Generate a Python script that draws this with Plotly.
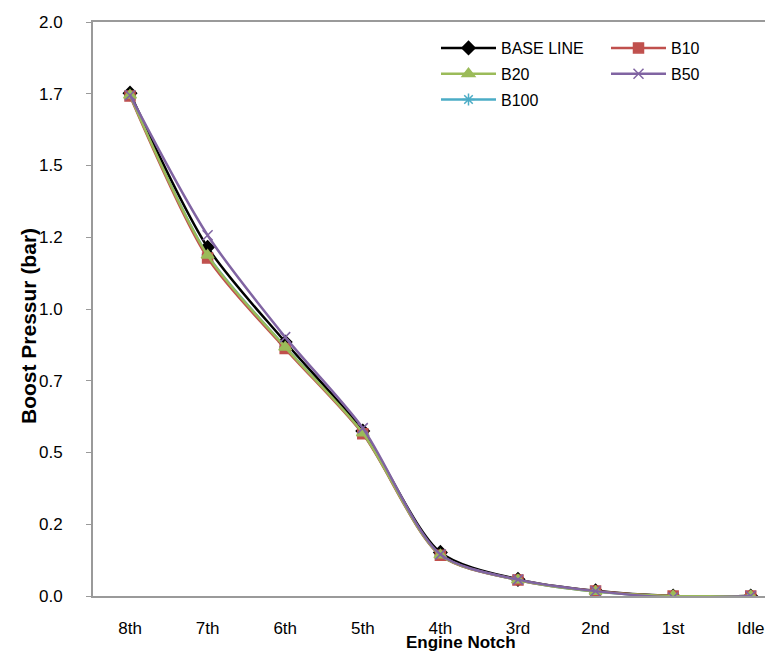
import plotly.graph_objects as go

notches = ["8th", "7th", "6th", "5th", "4th", "3rd", "2nd", "1st", "Idle"]
base_line = [1.752, 1.215, 0.885, 0.575, 0.152, 0.058, 0.018, 0.000, 0.000]
b10 = [1.742, 1.178, 0.862, 0.565, 0.142, 0.056, 0.017, 0.000, 0.000]
b20 = [1.745, 1.187, 0.867, 0.568, 0.143, 0.056, 0.016, 0.000, 0.000]
b50 = [1.745, 1.257, 0.902, 0.585, 0.145, 0.057, 0.017, -0.005, 0.000]
b100 = [1.745, 1.188, 0.868, 0.568, 0.143, 0.056, 0.016, 0.000, 0.000]

y_tickvals = [0, 0.25, 0.5, 0.75, 1.0, 1.25, 1.5, 1.75, 2.0]
y_ticktext = ["0.0", "0.2", "0.5", "0.7", "1.0", "1.2", "1.5", "1.7", "2.0"]

# drawing order: B100 lies underneath the others, as in the reference
series = [
    ("B100", b100, "#4BACC6", "asterisk-open", 10, "legend", 3),
    ("BASE LINE", base_line, "#000000", "diamond", 10, "legend", 1),
    ("B10", b10, "#C0504D", "square", 10, "legend2", 1),
    ("B20", b20, "#9BBB59", "triangle-up", 11, "legend", 2),
    ("B50", b50, "#8064A2", "x-thin-open", 10, "legend2", 2),
]

fig = go.Figure()
for name, vals, color, sym, size, lg, rank in series:
    fig.add_trace(go.Scatter(
        x=list(range(len(notches))), y=vals, name=name, mode="lines+markers",
        legend=lg, legendgroup=name, legendrank=rank,
        line=dict(color=color, width=2.5, shape="spline", smoothing=0.8),
        marker=dict(symbol=sym, size=size, color=color,
                    line=dict(color=color, width=1.5)),
    ))

W, H = 773, 651
L, R, T, B = 85, 0, 14, 63
pw, ph = W - L - R, H - T - B

legend_common = dict(
    orientation="v", xanchor="left", yanchor="top",
    font=dict(size=16, family="Liberation Sans, Arial, sans-serif"),
    bgcolor="rgba(0,0,0,0)", itemwidth=55, borderwidth=0,
    tracegroupgap=2,
)

fig.update_layout(
    width=W, height=H,
    margin=dict(l=L, r=R, t=T, b=B, pad=0),
    paper_bgcolor="white", plot_bgcolor="white",
    font=dict(family="Liberation Sans, Arial, sans-serif", color="#000000"),
    showlegend=True,
    legend=dict(x=(428 - L) / pw, y=(588 - 23) / ph, **legend_common),
    legend2=dict(x=(598 - L) / pw, y=(588 - 23) / ph, **legend_common),
    xaxis=dict(
        tickmode="array", tickvals=list(range(len(notches))), ticktext=notches,
        range=[-0.477, 8.39], showgrid=False, zeroline=False,
        showline=True, linecolor="#9a9a9a", linewidth=2, mirror=True,
        ticks="", tickfont=dict(size=17),
        ticklabelstandoff=16,
    ),
    yaxis=dict(
        tickmode="array", tickvals=y_tickvals, ticktext=y_ticktext,
        range=[0, 2.0], showgrid=False, zeroline=False,
        showline=True, linecolor="#9a9a9a", linewidth=2, mirror=False,
        ticks="outside", ticklen=5, tickcolor="#9a9a9a", tickwidth=1,
        tickfont=dict(size=17), ticklabelstandoff=20,
    ),
    annotations=[
        dict(text="<b>Boost Pressur (bar)</b>", xref="paper", yref="paper",
             x=(20 - L) / pw, y=(588 - 318) / ph, textangle=-90,
             showarrow=False, xanchor="center", yanchor="middle",
             font=dict(size=21)),
        dict(text="<b>Engine Notch</b>", xref="paper", yref="paper",
             x=(453 - L) / pw, y=(588 - 634) / ph,
             showarrow=False, xanchor="center", yanchor="middle",
             font=dict(size=17)),
    ],
)

fig.write_html("out.html")
